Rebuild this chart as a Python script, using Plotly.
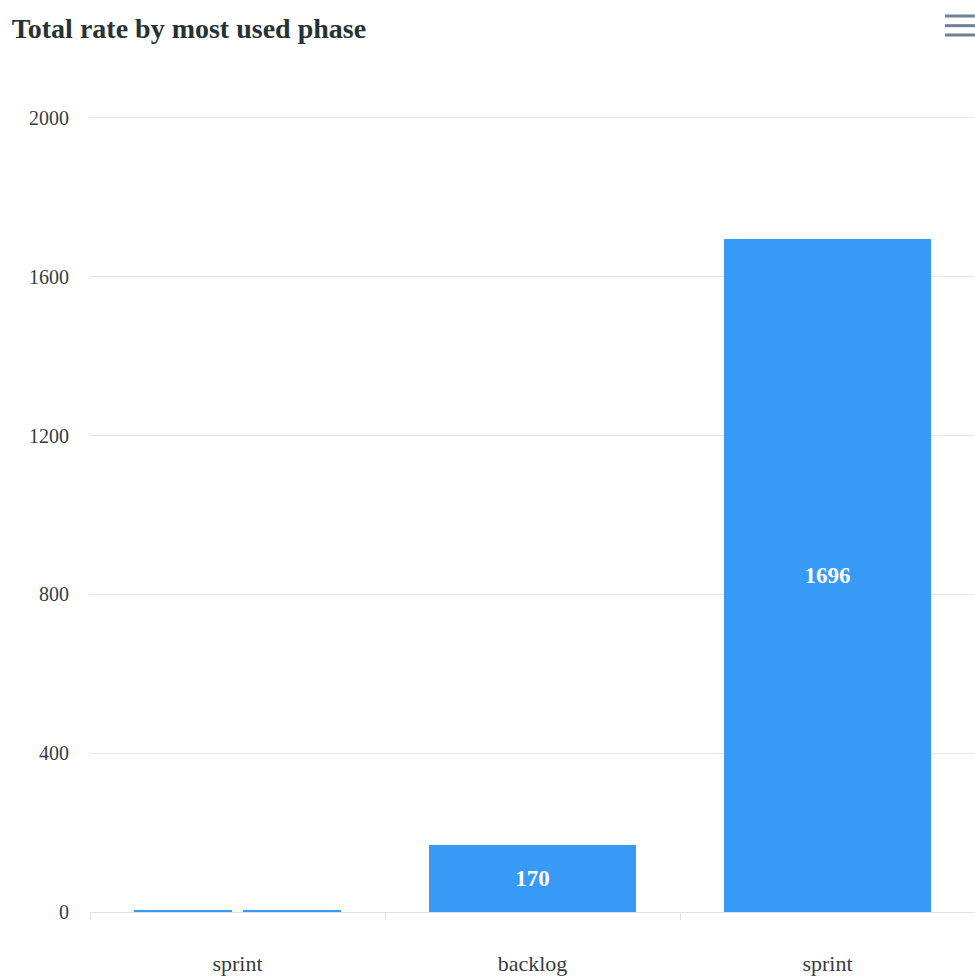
import plotly.graph_objects as go

# Phase categories along the x axis and their rate values.
# The first phase holds two small sub-bars side by side.
categories = ["sprint", "backlog", "sprint"]
rates = [[4, 4], [170], [1696]]
y_ticks = [0, 400, 800, 1200, 1600, 2000]

BAR_COLOR = "#379AF6"
FONT = "Liberation Serif"
GROUP_WIDTH = 0.7
SUB_GAP = 0.035

xs, ys, widths, labels = [], [], [], []
for i, vals in enumerate(rates):
    n = len(vals)
    w = (GROUP_WIDTH - SUB_GAP * (n - 1)) / n
    start = i - GROUP_WIDTH / 2
    for k, v in enumerate(vals):
        xs.append(start + w / 2 + k * (w + SUB_GAP))
        ys.append(v)
        widths.append(w)
        labels.append(str(v) if n == 1 else "")

fig = go.Figure(
    go.Bar(
        x=xs,
        y=ys,
        width=widths,
        marker=dict(color=BAR_COLOR, line=dict(width=0)),
        text=labels,
        textposition="inside",
        insidetextanchor="middle",
        textangle=0,
        textfont=dict(family=FONT, size=23, color="white", weight="bold"),
        hoverinfo="skip",
    )
)

fig.update_layout(
    width=975,
    height=980,
    margin=dict(l=90, r=0, t=114, b=68),
    paper_bgcolor="white",
    plot_bgcolor="white",
    showlegend=False,
    title=dict(
        text="<b>Total rate by most used phase</b>",
        font=dict(family=FONT, size=28, color="#263238"),
        x=0.012,
        xanchor="left",
        y=0.971,
        yanchor="middle",
    ),
    xaxis=dict(
        range=[-0.5, len(categories) - 0.5],
        tickmode="array",
        tickvals=list(range(len(categories))),
        ticktext=categories,
        ticks="",
        showgrid=False,
        zeroline=False,
        showline=True,
        linecolor="#e0e0e0",
        linewidth=1,
        tickfont=dict(family=FONT, size=22, color="#373d3f"),
        ticklabelstandoff=32,
        minor=dict(
            tickmode="array",
            tickvals=[i - 0.5 for i in range(len(categories) + 1)],
            ticks="outside",
            ticklen=7,
            tickcolor="#e0e0e0",
            showgrid=False,
        ),
        fixedrange=True,
    ),
    yaxis=dict(
        range=[0, 2010],
        tickmode="array",
        tickvals=y_ticks,
        showgrid=True,
        gridcolor="#e6e6e6",
        gridwidth=1,
        zeroline=False,
        showline=False,
        ticks="",
        tickfont=dict(family=FONT, size=20, color="#373d3f"),
        ticklabelstandoff=20,
        fixedrange=True,
    ),
    bargap=0,
)

# Menu icon in the top-right corner (paper units of the plot area).
for yy in (1.1228, 1.1107, 1.0990):
    fig.add_shape(
        type="line",
        xref="paper",
        yref="paper",
        x0=0.966,
        x1=1.0,
        y0=yy,
        y1=yy,
        line=dict(color="#6e8192", width=3),
        layer="above",
    )

fig.write_html("out.html", config={"displayModeBar": False})
